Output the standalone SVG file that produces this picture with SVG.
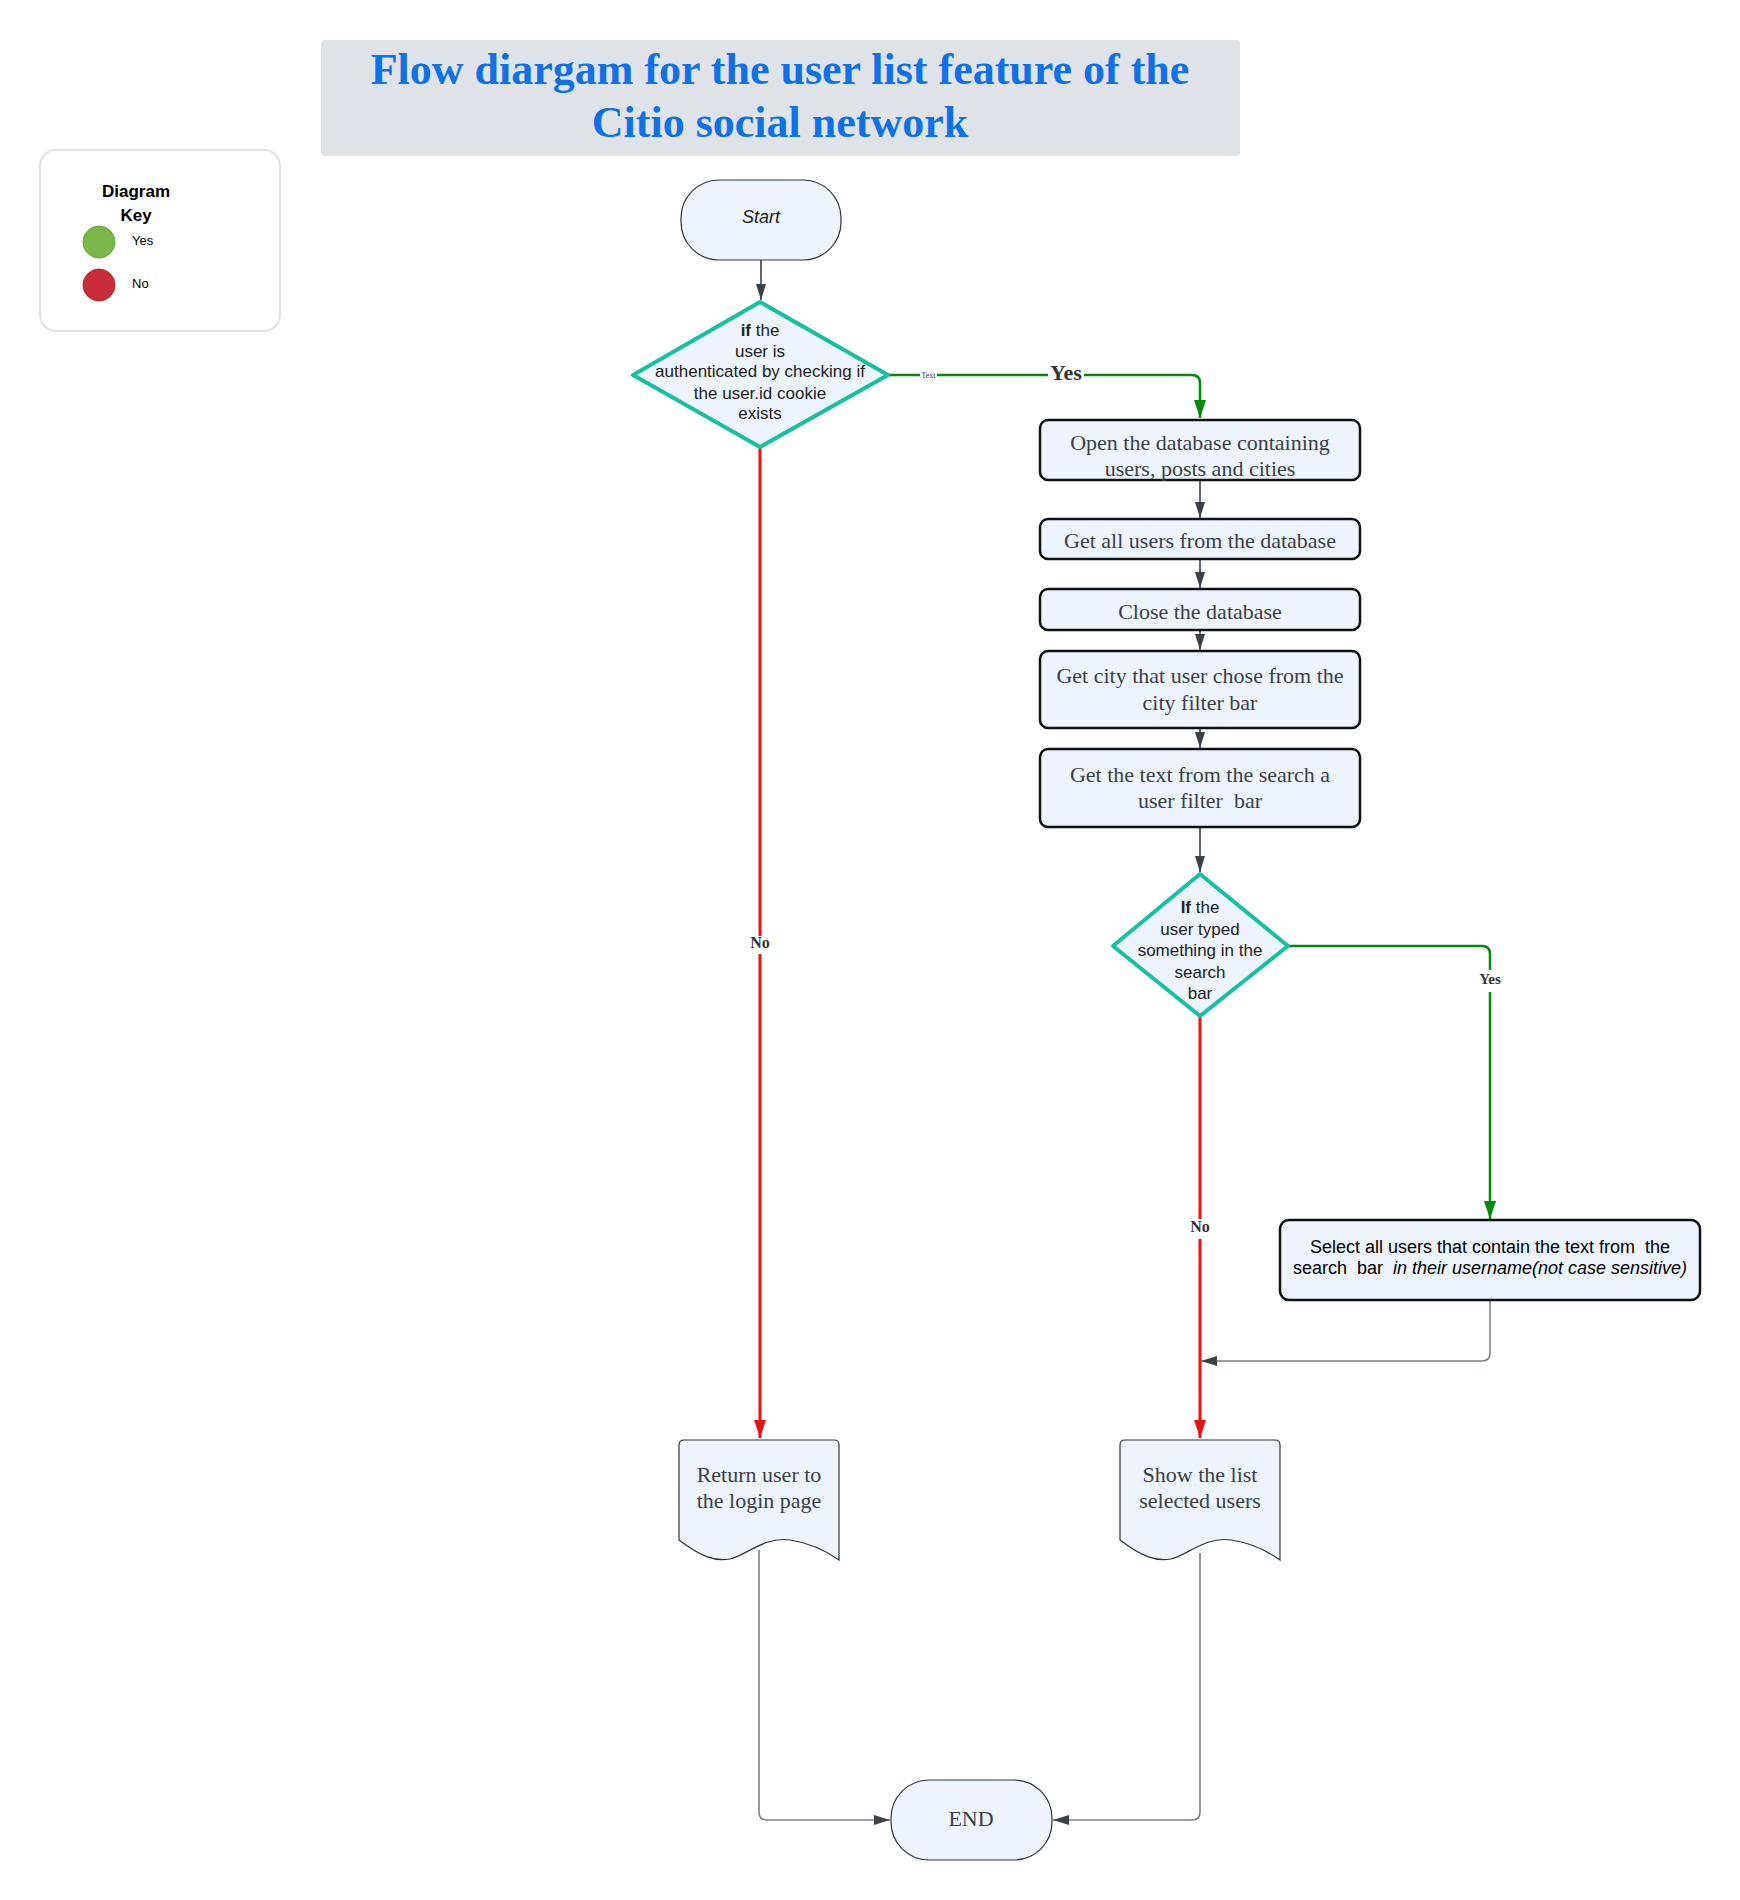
<svg xmlns="http://www.w3.org/2000/svg" width="1740" height="1900" viewBox="0 0 1740 1900">
<style>
.sans{font-family:"Liberation Sans",Arial,sans-serif}
.serif{font-family:"Liberation Serif","Times New Roman",serif}
.box{fill:#edf4fe;stroke:#111;stroke-width:2.5}
.term{fill:#edf4fe;stroke:#333;stroke-width:1.2}
.dia{fill:#edf4fe;stroke:#17bfa3;stroke-width:4;stroke-linejoin:round}
.btxt{font-family:"Liberation Serif","Times New Roman",serif;font-size:22px;fill:#3a4049;text-anchor:middle}
.dtxt{font-family:"Liberation Sans",Arial,sans-serif;font-size:17px;fill:#222;text-anchor:middle}
.c-gray{fill:none;stroke:#3a414a;stroke-width:1.6}
.c-lg{fill:none;stroke:#7a8089;stroke-width:1.6}
.c-green{fill:none;stroke:#008a0e;stroke-width:2.5}
.c-red{fill:none;stroke:#e81313;stroke-width:3}
.lbl{font-family:"Liberation Serif","Times New Roman",serif;font-weight:bold;fill:#333;text-anchor:middle}
</style>
<defs>
<marker id="ag" markerUnits="userSpaceOnUse" markerWidth="16" markerHeight="10" refX="16" refY="5" orient="auto"><path d="M0,0 L16,5 L0,10 z" fill="#3a414a"/></marker>
<marker id="agr" markerUnits="userSpaceOnUse" markerWidth="18" markerHeight="12" refX="18" refY="6" orient="auto"><path d="M0,0 L18,6 L0,12 z" fill="#008a0e"/></marker>
<marker id="ar" markerUnits="userSpaceOnUse" markerWidth="18" markerHeight="12" refX="18" refY="6" orient="auto"><path d="M0,0 L18,6 L0,12 z" fill="#e81313"/></marker>
</defs>
<rect width="1740" height="1900" fill="#fff"/>

<g id="title">
<rect x="321" y="40" width="919" height="116" rx="4" fill="#dfe3e8"/>
<text class="serif" x="780" y="84" font-size="44" font-weight="bold" fill="#1071e5" text-anchor="middle">Flow diargam for the user list feature of the</text>
<text class="serif" x="780" y="137" font-size="44" font-weight="bold" fill="#1071e5" text-anchor="middle">Citio social network</text>
</g>

<g id="key">
<rect x="40" y="150" width="240" height="181" rx="16" fill="#fff" stroke="#dfe2e7" stroke-width="2"/>
<text class="sans" x="136" y="197" font-size="17" font-weight="bold" fill="#000" text-anchor="middle">Diagram</text>
<text class="sans" x="136" y="221" font-size="17" font-weight="bold" fill="#000" text-anchor="middle">Key</text>
<circle cx="99" cy="242" r="16" fill="#7ab648" stroke="#6aa03c" stroke-width="1"/>
<text class="sans" x="132" y="245" font-size="13" fill="#000">Yes</text>
<circle cx="99" cy="285" r="16" fill="#c92d39" stroke="#b02630" stroke-width="1"/>
<text class="sans" x="132" y="288" font-size="13" fill="#000">No</text>
</g>

<g id="connectors">
<path class="c-gray" d="M761 260 V300" marker-end="url(#ag)"/>
<path class="c-green" d="M888 375 H1192 Q1200 375 1200 383 V418" marker-end="url(#agr)"/>
<rect x="920" y="370" width="17" height="10" fill="#fff"/>
<text class="serif" x="928.5" y="378" font-size="8" fill="#333" text-anchor="middle">Text</text>
<rect x="1048" y="362" width="36" height="24" fill="#fff"/>
<text class="lbl" x="1066" y="380" font-size="22">Yes</text>
<path class="c-red" d="M760 447 V1438" marker-end="url(#ar)"/>
<rect x="748" y="936" width="24" height="18" fill="#fff"/>
<text class="lbl" x="760" y="948" font-size="16">No</text>
<path class="c-gray" d="M1200 480 V518" marker-end="url(#ag)"/>
<path class="c-gray" d="M1200 559 V588" marker-end="url(#ag)"/>
<path class="c-gray" d="M1200 630 V650" marker-end="url(#ag)"/>
<path class="c-gray" d="M1200 707 V748" marker-end="url(#ag)"/>
<path class="c-gray" d="M1200 827 V872" marker-end="url(#ag)"/>
<path class="c-green" d="M1288 946 H1482 Q1490 946 1490 954 V1219" marker-end="url(#agr)"/>
<rect x="1476" y="970" width="28" height="22" fill="#fff"/>
<text class="lbl" x="1490" y="984" font-size="15">Yes</text>
<path class="c-red" d="M1200 1016 V1438" marker-end="url(#ar)"/>
<rect x="1188" y="1219" width="24" height="20" fill="#fff"/>
<text class="lbl" x="1200" y="1232" font-size="16">No</text>
<path class="c-lg" d="M1490 1300 V1353 Q1490 1361 1482 1361 H1215"/>
<path class="c-lg" d="M1215 1361 H1201" stroke="none" marker-end="url(#ag)"/>
<path class="c-lg" d="M759 1550 V1812 Q759 1820 767 1820 H890" marker-end="url(#ag)"/>
<path class="c-lg" d="M1200 1553 V1812 Q1200 1820 1192 1820 H1053" marker-end="url(#ag)"/>
</g>

<g id="start">
<rect class="term" x="681" y="180" width="160" height="80" rx="38" ry="38"/>
<text class="sans" x="761" y="223" font-size="18" font-style="italic" fill="#222" text-anchor="middle">Start</text>
</g>

<g id="auth-decision">
<path class="dia" d="M760 302 L888 375 L760 447 L633 375 Z"/>
<text class="dtxt" x="760" y="336"><tspan font-weight="bold">if</tspan> the</text>
<text class="dtxt" x="760" y="357">user is</text>
<text class="dtxt" x="760" y="377">authenticated by checking if</text>
<text class="dtxt" x="760" y="399">the user.id cookie</text>
<text class="dtxt" x="760" y="419">exists</text>
</g>

<g id="open-db">
<rect class="box" x="1040" y="420" width="320" height="60" rx="8"/>
<text class="btxt" x="1200" y="450">Open the database containing</text>
<text class="btxt" x="1200" y="476">users, posts and cities</text>
</g>

<g id="get-users">
<rect class="box" x="1040" y="519" width="320" height="40" rx="8"/>
<text class="btxt" x="1200" y="548">Get all users from the database</text>
</g>

<g id="close-db">
<rect class="box" x="1040" y="589" width="320" height="41" rx="8"/>
<text class="btxt" x="1200" y="619">Close the database</text>
</g>

<g id="get-city">
<rect class="box" x="1040" y="651" width="320" height="77" rx="8"/>
<text class="btxt" x="1200" y="683">Get city that user chose from the</text>
<text class="btxt" x="1200" y="710">city filter bar</text>
</g>

<g id="get-text">
<rect class="box" x="1040" y="749" width="320" height="78" rx="8"/>
<text class="btxt" x="1200" y="782">Get the text from the search a</text>
<text class="btxt" x="1200" y="808" style="white-space:pre">user filter  bar</text>
</g>

<g id="search-decision">
<path class="dia" d="M1200 874 L1288 946 L1200 1016 L1113 946 Z"/>
<text class="dtxt" x="1200" y="913" fill="#333"><tspan font-weight="bold">If</tspan> the</text>
<text class="dtxt" x="1200" y="935" fill="#333">user typed</text>
<text class="dtxt" x="1200" y="956" fill="#333">something in the</text>
<text class="dtxt" x="1200" y="978" fill="#333">search</text>
<text class="dtxt" x="1200" y="999" fill="#333">bar</text>
</g>

<g id="select-users">
<rect class="box" x="1280" y="1220" width="420" height="80" rx="9"/>
<text class="sans" x="1490" y="1253" font-size="18" fill="#000" text-anchor="middle" style="white-space:pre">Select all users that contain the text from  the</text>
<text class="sans" x="1490" y="1274" font-size="18" fill="#000" text-anchor="middle" style="white-space:pre">search  bar  <tspan font-style="italic">in their username(not case sensitive)</tspan></text>
</g>

<g id="return-login">
<path class="term" d="M684 1440 H834 Q839 1440 839 1445 V1560 C825 1550 810 1543 790 1540 C765 1536 745 1556 730 1559 C715 1562 700 1556 679 1540 V1445 Q679 1440 684 1440 Z"/>
<text class="btxt" x="759" y="1482">Return user to</text>
<text class="btxt" x="759" y="1508">the login page</text>
</g>

<g id="show-list">
<path class="term" d="M1125 1440 H1275 Q1280 1440 1280 1445 V1560 C1266 1550 1251 1543 1231 1540 C1206 1536 1186 1556 1171 1559 C1156 1562 1141 1556 1120 1540 V1445 Q1120 1440 1125 1440 Z"/>
<text class="btxt" x="1200" y="1482">Show the list</text>
<text class="btxt" x="1200" y="1508">selected users</text>
</g>

<g id="end">
<rect class="term" x="891" y="1780" width="161" height="80" rx="38" ry="38"/>
<text class="btxt" x="971" y="1826">END</text>
</g>
</svg>
